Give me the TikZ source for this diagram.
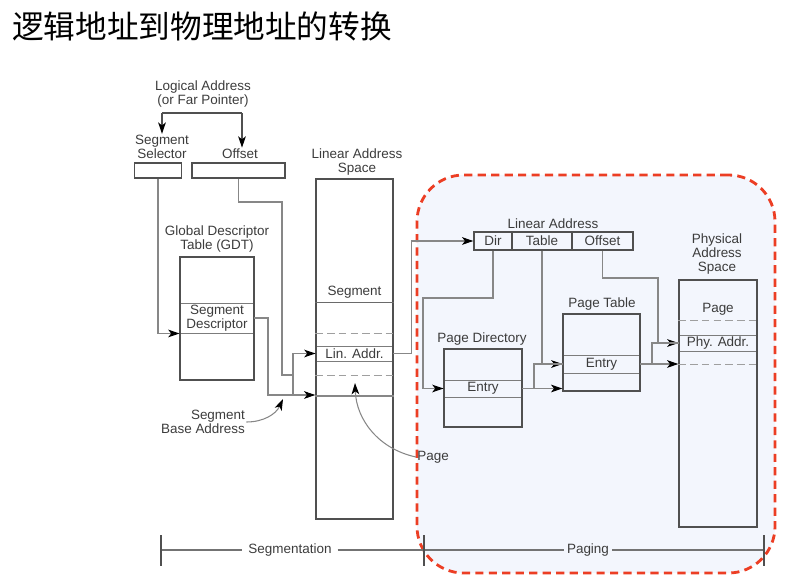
\documentclass[tikz,border=0pt]{standalone}
\usepackage{fontspec}
\setmainfont{Liberation Sans}
\newfontfamily\cjk{Noto Sans CJK SC}
\usepackage{tikz}
\usetikzlibrary{positioning, arrows.meta, backgrounds}
\definecolor{pageRed}{RGB}{236, 62, 36}
\definecolor{pageFill}{RGB}{243, 246, 253}
\definecolor{boxGray}{RGB}{80, 80, 80}
\definecolor{lineGray}{RGB}{135, 135, 135}
\definecolor{txtGray}{RGB}{60, 60, 60}
\tikzset{
  lbl/.style={align=center, text=txtGray, inner sep=1pt,
              font=\fontsize{11.5}{12}\selectfont},
  tbl/.style={rectangle, draw=boxGray, line width=1.1pt, inner sep=0pt},
  row/.style={rectangle, draw=boxGray!75, line width=0.8pt, inner sep=1pt,
              align=center, text=txtGray, font=\fontsize{11.5}{12}\selectfont},
  divline/.style={draw=boxGray!85, line width=0.8pt},
  dline/.style={draw=lineGray!80, line width=0.8pt, dash pattern=on 6.5pt off 3.5pt},
  conn/.style={draw=lineGray, line width=0.9pt},
  arr/.style={conn, -{Stealth[length=3.4mm, width=2.3mm, inset=0.9mm, color=black]}},
  zone/.style={rectangle, draw=pageRed, fill=pageFill, line width=2.4pt,
               dash pattern=on 7pt off 4.5pt, rounded corners=1.4cm,
               minimum width=10.74cm, minimum height=11.94cm},
}

\begin{document}
\begin{tikzpicture}[x=0.03cm, y=-0.03cm,
    scalelbl/.style={lbl, inner sep=2.5pt},
  ]
    \useasboundingbox (0,0) rectangle (810,584);

    % Paging zone
    \node[zone] (pgzone) at (596,374) {};

    % Title
    \node[anchor=west, inner sep=0pt, font=\cjk\fontsize{27}{30}\selectfont]
         (title) at (12,26) {逻辑地址到物理地址的转换};

    % Logical address
    \node[lbl] (logaddr) at (203,94) {Logical Address\\(or Far Pointer)};
    \node[lbl] (sellbl) at (162,147) {Segment\\Selector};
    \node[lbl] (offlbl) at (240,154) {Offset};
    \coordinate (lgL) at (162,113);
    \coordinate (lgR) at (242,113);
    \draw[conn, draw=boxGray] (lgL) -- (lgR);
    \draw[arr, draw=boxGray] (lgL) -- (sellbl);
    \draw[arr, draw=boxGray] (lgR) -- (offlbl.north -| lgR);

    \node[tbl, minimum width=1.41cm, minimum height=0.45cm] (selbox) at (158,170.5) {};
    \node[tbl, minimum width=2.79cm, minimum height=0.45cm] (offbox) at (238.5,170.5) {};

    % GDT
    \node[lbl] (gdtlbl) at (217,239) {Global Descriptor\\Table (GDT)};
    \node[row, minimum width=2.22cm, minimum height=0.9cm] (gdtdesc) at (217,318) {Segment\\Descriptor};
    \node[tbl, minimum width=2.22cm, minimum height=3.69cm] (gdt) at (217,318.5) {};
    \draw[arr] (selbox.south) |- (gdtdesc.south west);

    % Linear address space
    \node[lbl] (laslbl) at (357,162) {Linear Address\\Space};
    \node[lbl] (segtxt) at (354.5,292) {Segment};
    \node[row, minimum width=2.31cm, minimum height=0.45cm] (linrow) at (354.5,353.5) {Lin. Addr.};
    \node[tbl, minimum width=2.31cm, minimum height=10.2cm] (las) at (354.5,349) {};
    \draw[divline] (las.west |- 0,302) -- (las.east |- 0,302);
    \draw[dline] (las.west |- 0,333) -- (las.east |- 0,333);
    \draw[dline] (las.west |- 0,375) -- (las.east |- 0,375);
    \draw[conn] (las.west |- 0,396) -- (las.east |- 0,396);

    \coordinate (segjn) at (293,375);
    \coordinate (segbase) at (las.west |- 0,395);
    \draw[conn] (offbox.south) |- (282,202) |- (segjn);
    \draw[arr] (segjn) |- (linrow.west);
    \draw[arr] (gdtdesc.east) -| (268,395) -- (segbase);
    \draw[conn] (segjn) -- (segjn |- segbase);

    \node[lbl, align=right] (sbalbl) at (203,422) {Segment\\Base Address};
    \coordinate (sbatip) at (283,399);
    \draw[arr] (sbalbl.east) to[out=0, in=-115] (sbatip);

    \node[lbl, anchor=west] (pagelbl) at (416,457) {Page};
    \coordinate (pgtip) at (355,383);
    \draw[arr] (pagelbl.west) to[out=168, in=-88] (pgtip);

    % Linear address fields
    \node[lbl] (lalbl) at (553,224) {Linear Address};
    \node[row, draw=boxGray, line width=1.1pt, minimum width=1.14cm, minimum height=0.54cm] (ladir) at (493,241) {Dir};
    \node[row, draw=boxGray, line width=1.1pt, minimum width=1.8cm, minimum height=0.54cm] (latab) at (542,241) {Table};
    \node[row, draw=boxGray, line width=1.1pt, minimum width=1.83cm, minimum height=0.54cm] (laoff) at (602.5,241) {Offset};
    \draw[arr] (linrow.east) -- ++(18,0) |- (ladir.west);

    % Page directory
    \node[lbl] (pdlbl) at (482,339) {Page Directory};
    \node[row, minimum width=2.34cm, minimum height=0.51cm] (pdentry) at (483,388.5) {Entry};
    \node[tbl, minimum width=2.34cm, minimum height=2.34cm] (pd) at (483,388) {};
    \draw[arr] (ladir.south) |- (423,298) |- (pdentry.west);

    % Page table
    \node[lbl] (ptlbl) at (602,304) {Page Table};
    \node[row, minimum width=2.31cm, minimum height=0.54cm] (ptentry) at (601.5,364) {Entry};
    \node[tbl, minimum width=2.31cm, minimum height=2.31cm] (pt) at (601.5,352.5) {};
    \draw[arr] (latab.south) |- (ptentry.west);
    \draw[arr] (pdentry.east) -- (pdentry.east -| pt.west);
    \draw[conn] (pdentry.east -| 534,0) |- (ptentry.west);

    % Physical address space
    \node[lbl] (paslbl) at (717,254) {Physical\\Address\\Space};
    \node[lbl] (pagetxt) at (718,309) {Page};
    \node[row, minimum width=2.34cm, minimum height=0.48cm] (phyrow) at (718,343) {Phy. Addr.};
    \node[tbl, minimum width=2.34cm, minimum height=7.41cm] (pas) at (718,403.5) {};
    \draw[dline] (pas.west |- 0,320) -- (pas.east |- 0,320);
    \draw[dline] (pas.west |- 0,364) -- (pas.east |- 0,364);
    \draw[arr] (laoff.south) |- (658,278) |- (phyrow.west);
    \draw[arr] (ptentry.east) -- (ptentry.east -| pas.west);
    \draw[conn] (ptentry.east -| 652,0) |- (phyrow.west);

    % Scale at the bottom
    \coordinate (tk1) at (161,550);
    \coordinate (tk2) at (424,550);
    \coordinate (tk3) at (764,550);
    \node[scalelbl, inner xsep=5pt] (segscale) at (290,550) {Segmentation};
    \node[scalelbl] (pgscale) at (588,550) {Paging};
    \draw[conn, draw=boxGray!80] (tk1) -- (segscale.west);
    \draw[conn, draw=boxGray!80] (segscale.east) -- (tk2) -- (pgscale.west);
    \draw[conn, draw=boxGray!80] (pgscale.east) -- (tk3);
    \foreach \t in {tk1,tk2,tk3}
      \draw[boxGray, line width=1pt] (\t) ++(0,-15) -- ++(0,31);
\end{tikzpicture}
\end{document}
